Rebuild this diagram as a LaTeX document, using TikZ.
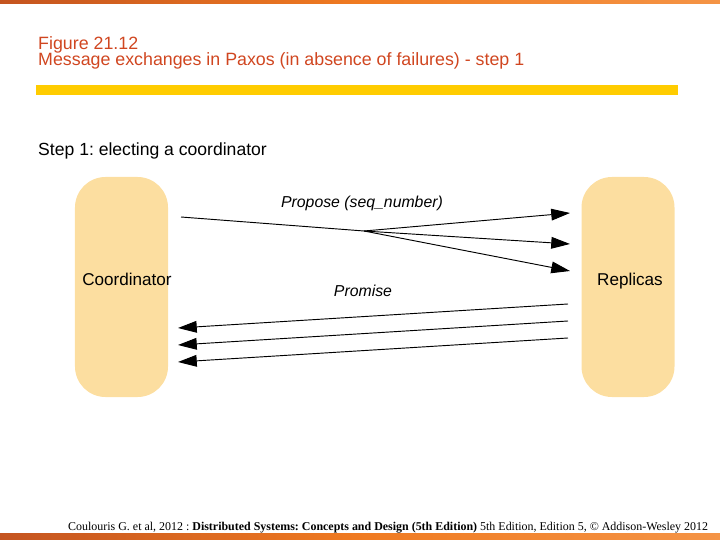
\documentclass[tikz,border=0pt]{standalone}
\usepackage{fontspec}
\setmainfont{Liberation Sans}
\newfontfamily\footfont{Liberation Serif}
\usetikzlibrary{arrows.meta}
\definecolor{titlered}{RGB}{208,70,32}
\definecolor{boxfill}{RGB}{252,222,160}
\definecolor{baryellow}{RGB}{255,204,0}
\pgfdeclarehorizontalshading{slidebar}{100bp}{rgb(0bp)=(0.60,0.18,0.12); rgb(50bp)=(0.94,0.48,0.13); rgb(90bp)=(0.97,0.64,0.36); rgb(100bp)=(0.86,0.56,0.36)}
\tikzset{>={Triangle[length=16pt,width=10pt]}}
\frenchspacing

\begin{document}
\begin{tikzpicture}[x=0.03cm,y=-0.03cm,
    proc/.style={fill=boxfill,rounded corners=26pt,minimum width=2.79cm,minimum height=6.6cm,inner sep=0pt},
    msg/.style={line width=0.8pt},
    head/.style={anchor=base west,inner sep=0pt,text=titlered,font=\fontsize{15.2}{17}\selectfont},
    procname/.style={anchor=base,inner sep=0pt,font=\fontsize{14.6}{17}\selectfont},
    lbl/.style={font=\fontsize{13.5}{15}\selectfont\itshape,inner sep=0pt}]
    \useasboundingbox (0,0) rectangle (720,540);
    \shade[shading=slidebar] (0,0) rectangle (720,4);
    \shade[shading=slidebar] (0,533) rectangle (720,540);
    \fill[baryellow] (36,85) rectangle (678,95);
    % headings
    \node[head] (fig) at (38,50) {Figure 21.12};
    \node[head] (cap) at (38,66) {Message exchanges in Paxos (in absence of failures) - step 1};
    \node[anchor=base west,inner sep=0pt,font=\fontsize{15}{17}\selectfont] (step) at (38,156) {Step 1: electing a coordinator};
    % processes
    \node[proc] (coordbox) at (121.5,287) {};
    \node[proc] (replbox) at (628,287) {};
    \node[procname] (coord) at (127,286) {Coordinator};
    \node[procname] (repl) at (630,286) {Replicas};
    % propose
    \coordinate (ps) at (181,217);
    \coordinate (fk) at (364,231);
    \coordinate (p1) at (570,213);
    \coordinate (p2) at (570,244);
    \coordinate (p3) at (570,271);
    \draw[msg] (ps) -- (fk);
    \foreach \t in {p1,p2,p3}
      \draw[msg,->] (fk) -- (\t);
    \node[lbl] (propose) at (362,203) {Propose (seq\_number)};
    % promise
    \coordinate (r1) at (568,304);
    \coordinate (r2) at (568,321);
    \coordinate (r3) at (568,338);
    \coordinate (c1) at (178,328);
    \coordinate (c2) at (178,345);
    \coordinate (c3) at (178,362);
    \foreach \i in {1,2,3}
      \draw[msg,->] (r\i) -- (c\i);
    \node[lbl] (promise) at (363,291) {Promise};
    % source line
    \node[anchor=base west,inner sep=0pt,font=\footfont\fontsize{10.2}{12}\selectfont] (src) at (68,530)
      {Coulouris G. et al, 2012 : \textbf{Distributed Systems: Concepts and Design (5th Edition)} 5th Edition, Edition 5, © Addison-Wesley 2012};
\end{tikzpicture}
\end{document}
